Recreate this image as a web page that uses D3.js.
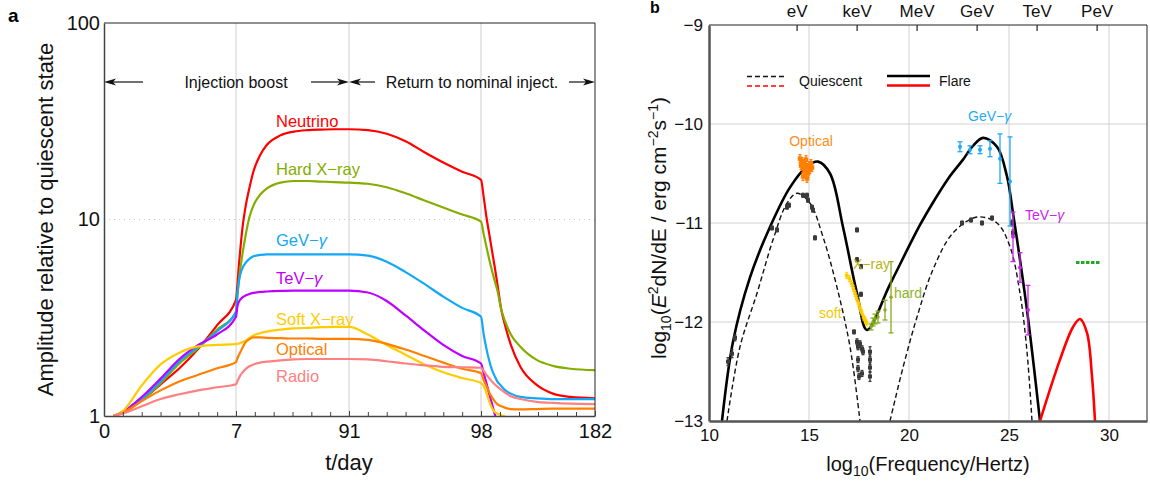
<!DOCTYPE html>
<html>
<head>
<meta charset="utf-8">
<script src="https://cdn.jsdelivr.net/npm/d3@7"></script>
<style>
	body { margin: 0; background: #fff; }
	svg { font-family: "Liberation Sans", Arial, sans-serif; }
</style>
</head>
<body>
<svg id="chart" width="1150" height="484"></svg>
<script>
// ---------- panel a : light curves ----------
const days		= [0.5, 1, 2, 3, 4, 5, 6, 7,
				   8, 9, 10, 12, 14, 17, 20, 25, 30, 40, 50, 60, 70, 80, 91,
				   92, 93, 94, 95, 96, 97, 98,
				   100, 102, 104, 106, 108, 110, 113, 116, 120, 127, 139, 151, 164, 182];
const neutrino	= [1, 1.04, 1.2, 1.45, 1.75, 2.2, 2.9, 3.9,
				   4.6, 5.7, 6.8, 9.3, 11.5, 14.5, 17.6, 21.3, 24.0, 26.8, 28.0, 28.5, 28.7, 28.8, 28.8,
				   28.5, 27.3, 25, 22, 19.5, 17.5, 15.9,
				   13.0, 10.3, 8.5, 7.0, 5.8, 4.73, 3.46, 2.85, 2.3, 1.78, 1.44, 1.30, 1.25, 1.23];
const hardX		= [1, 1.04, 1.2, 1.47, 1.85, 2.22, 2.75, 3.35,
				   4.1, 4.8, 5.5, 6.8, 8.2, 10.3, 11.8, 13.4, 14.4, 15.4, 15.7, 15.7, 15.6, 15.5, 15.4,
				   15.2, 14.6, 13.6, 12.5, 11.5, 10.6, 9.75,
				   8.4, 7.27, 6.3, 5.53, 4.9, 4.38, 3.46, 3.0, 2.6, 2.25, 1.93, 1.8, 1.74, 1.71];
const gevGamma	= [1, 1.05, 1.22, 1.5, 1.9, 2.25, 2.7, 3.4,
				   4.1, 4.75, 5.2, 5.7, 6.0, 6.3, 6.5, 6.6, 6.65, 6.65, 6.65, 6.65, 6.65, 6.65, 6.65,
				   6.55, 6.1, 5.4, 4.7, 4.05, 3.55, 3.2,
				   2.6, 2.2, 1.92, 1.72, 1.6, 1.5, 1.42, 1.35, 1.3, 1.25, 1.23, 1.22, 1.22, 1.22];
const tevGamma	= [1, 1.05, 1.25, 1.55, 1.95, 2.3, 2.6, 3.2,
				   3.6, 3.8, 3.9, 4.03, 4.1, 4.18, 4.23, 4.28, 4.3, 4.33, 4.35, 4.35, 4.35, 4.35, 4.35,
				   4.25, 3.85, 3.25, 2.72, 2.3, 2.02, 1.85,
				   1.65, 1.47, 1.3, 1.16, 1.03, 0.93, null, null, null, null, null, null, null, null];
const softX		= [1, 1.06, 1.43, 1.83, 2.1, 2.26, 2.3, 2.32,
				   2.33, 2.34, 2.35, 2.38, 2.42, 2.5, 2.57, 2.64, 2.69, 2.75, 2.79, 2.81, 2.83, 2.84, 2.84,
				   2.6, 2.3, 2.05, 1.83, 1.67, 1.56, 1.47,
				   1.42, 1.31, 1.19, 1.1, 1.05, 1.03, 1.01, 0.99, 0.97, null, null, null, null, null];
const optical	= [1, 1.04, 1.19, 1.35, 1.5, 1.62, 1.75, 1.88,
				   1.96, 2.03, 2.1, 2.24, 2.37, 2.46, 2.51, 2.51, 2.5, 2.49, 2.48, 2.48, 2.47, 2.47, 2.47,
				   2.44, 2.33, 2.18, 2.02, 1.87, 1.74, 1.65,
				   1.52, 1.42, 1.32, 1.25, 1.19, 1.15, 1.12, 1.1, 1.085, 1.08, 1.085, 1.09, 1.09, 1.09];
const radio		= [1, 1.03, 1.12, 1.22, 1.29, 1.35, 1.4, 1.45,
				   1.5, 1.55, 1.6, 1.67, 1.73, 1.79, 1.83, 1.87, 1.89, 1.92, 1.94, 1.95, 1.95, 1.95, 1.95,
				   1.94, 1.9, 1.85, 1.81, 1.78, 1.77, 1.76,
				   1.7, 1.62, 1.56, 1.5, 1.45, 1.41, 1.36, 1.31, 1.26, 1.22, 1.18, 1.165, 1.155, 1.15];

const curveNames	= ["Neutrino", "Hard X\u2212ray", "GeV\u2212", "TeV\u2212", "Soft X\u2212ray", "Optical", "Radio"];
const curveValues	= [neutrino, hardX, gevGamma, tevGamma, softX, optical, radio];
const dayTicks		= [0, 7, 91, 98, 182];
const ampTicks		= [1, 10, 100];

// ---------- panel b : SED ----------
const flareX	= [10.65, 11.2, 12.05, 13.05, 14.05, 14.9, 15.45, 16.05, 16.7, 17.4, 17.9, 19.05, 20.55, 21.3, 22.0, 22.7, 23.2, 23.7, 24.4, 24.9, 25.2, 25.9, 26.55];
const flareY	= [-13, -12.2, -11.55, -11.04, -10.64, -10.43, -10.38, -10.5, -11.04, -11.71, -12.08, -11.62, -11.02, -10.76, -10.54, -10.36, -10.22, -10.14, -10.23, -10.53, -10.9, -11.88, -13];
const quiesX	= [10.9, 11.55, 12.4, 13.2, 13.9, 14.4, 15.05, 15.7, 16.4, 17.05, 17.55, null,
				   19.05, 19.7, 20.4, 21.2, 22.2, 23.4, 24.4, 25.05, 25.55, 25.9, 26.15];
const quiesY	= [-13, -12.25, -11.71, -11.17, -10.8, -10.7, -10.8, -11.14, -11.65, -12.25, -13, null,
				   -13, -12.46, -11.95, -11.47, -11.1, -10.94, -11.0, -11.24, -11.71, -12.3, -13];
const nuX		= [26.55, 27.55, 28.2, 28.55, 28.9, 29.15, 29.3, 29.35];
const nuY		= [-13, -12.38, -12.05, -11.97, -12.11, -12.55, -13, -13.2];
const sensX		= [28.35, 29.6];
const sensY		= -11.4;

// [log10 nu, log10 flux, error]
const quiesPts	= [[10.95,-12.4,0.04],[11.15,-12.32,0.04],[11.3,-12.16,0.03],[13.15,-11.05,0.02],[13.4,-11.07,0.02],
				   [13.9,-10.84,0.02],[14.0,-10.82,0.02],[14.7,-10.72,0.02],[14.9,-10.72,0.02],[14.95,-10.77,0.02],
				   [15.15,-10.84,0.02],[15.2,-10.87,0.02],[15.3,-11.15,0.02],[17.4,-11.07,0.02],[17.4,-11.37,0.02],
				   [17.6,-11.44,0.02],[17.6,-11.72,0.02],[17.25,-12.1,0.02],[17.4,-12.2,0.03],[17.45,-12.25,0.03],
				   [17.55,-12.22,0.03],[17.65,-12.27,0.03],[17.7,-12.3,0.03],[17.45,-12.38,0.03],[17.45,-12.47,0.03],
				   [17.5,-12.55,0.03],[17.65,-12.52,0.03],[18.05,-12.3,0.05],[18.05,-12.38,0.05],[18.05,-12.46,0.05],
				   [18.05,-12.55,0.05],[22.65,-11.0,0.02],[23.1,-10.97,0.02],[23.65,-11.0,0.02],[24.15,-10.95,0.02],
				   [25.15,-11.0,0.03],[25.2,-11.1,0.03]];
const opticalPts= [[14.55,-10.35,0.04],[14.6,-10.42,0.04],[14.65,-10.38,0.04],[14.7,-10.45,0.04],[14.75,-10.4,0.04],
				   [14.8,-10.48,0.04],[14.85,-10.36,0.04],[14.9,-10.44,0.04],[14.95,-10.5,0.04],[15.0,-10.42,0.04],
				   [15.05,-10.46,0.04],[15.1,-10.4,0.04],[15.15,-10.44,0.04],[14.7,-10.53,0.04],[14.9,-10.55,0.04]];
const softPts	= [[16.88,-11.53,0.03],[17.02,-11.56,0.03],[17.13,-11.61,0.03],[17.22,-11.66,0.03],[17.3,-11.71,0.03],
				   [17.38,-11.76,0.03],[17.47,-11.81,0.03],[17.55,-11.86,0.03],[17.63,-11.9,0.03],[17.72,-11.95,0.03],
				   [17.8,-11.98,0.03],[17.88,-12.01,0.03]];
const hardPts	= [[18.1,-12.05,0.03],[18.2,-12.0,0.04],[18.3,-11.97,0.05],[18.45,-11.95,0.06],[18.8,-11.88,0.1],[19.1,-11.75,0.36]];
const gevPts	= [[22.55,-10.23,0.05],[23.05,-10.26,0.04],[23.55,-10.26,0.04],[24.05,-10.25,0.08],[24.55,-10.35,0.25],[25.05,-10.58,0.45]];
const tevPts	= [[25.2,-11.14,0.25],[25.55,-11.45,0.15],[25.95,-11.88,0.25]];

const nuTicks	= [10, 15, 20, 25, 30];
const fluxTicks	= [-13, -12, -11, -10, -9];
const energyLabels	= ["eV", "keV", "MeV", "GeV", "TeV", "PeV"];
const energyAt		= [14.38, 17.38, 20.38, 23.38, 26.38, 29.38];

// ================= drawing =================
let svg = d3.select("#chart");

let colorsA	= ["#ff0000", "#84ad00", "#12a8f5", "#bf00ff", "#ffcc00", "#ff7f00", "#ff8080"];
let labelY	= [127, 175, 246, 284, 325, 355, 382];

let xA = d3.scaleLinear().domain(dayTicks).range([104, 236, 349, 481, 595]);
let yA = d3.scaleLog().domain([1, 100]).range([416, 23]);

let pa = svg.append('g').attr('id', 'panel-a');

pa.append('clipPath').attr('id', 'clip-a')
	.append('rect').attr('x', 104).attr('y', 23).attr('width', 491).attr('height', 393);

// grid
pa.append('g').selectAll('line').data([7, 91, 98]).enter().append('line')
	.attr('x1', (d) => xA(d)).attr('x2', (d) => xA(d))
	.attr('y1', yA(100)).attr('y2', yA(1))
	.attr('stroke', '#cfcfcf').attr('stroke-width', 1);
pa.append('line')
	.attr('x1', xA(0)).attr('x2', xA(182)).attr('y1', yA(10)).attr('y2', yA(10))
	.attr('stroke', '#c8c8c8').attr('stroke-dasharray', '1,4');

// curves
let lineA = d3.line()
	.defined((d) => d[1] != null)
	.x((d) => xA(d[0]))
	.y((d) => yA(d[1]))
	.curve(d3.curveMonotoneX);

pa.append('g').attr('clip-path', 'url(#clip-a)')
	.selectAll('path').data(curveValues).enter().append('path')
	.attr('d', (vals) => lineA(days.map((t, i) => [t, vals[i]])))
	.attr('fill', 'none')
	.attr('stroke', (d, i) => colorsA[i])
	.attr('stroke-width', 2.2);

// curve labels
let lab = pa.append('g').selectAll('text').data(curveNames).enter().append('text')
	.attr('x', 276).attr('y', (d, i) => labelY[i])
	.attr('fill', (d, i) => colorsA[i])
	.attr('font-size', 16.5)
	.text((d) => d);
lab.filter((d, i) => i == 2 || i == 3).append('tspan').attr('font-style', 'italic').text('\u03b3');

// frame
pa.append('line').attr('x1', 104).attr('x2', 595).attr('y1', 23).attr('y2', 23).attr('stroke', '#222');
pa.append('line').attr('x1', 595).attr('x2', 595).attr('y1', 23).attr('y2', 416).attr('stroke', '#222');

// axes
let minorDays = d3.range(1, 7).concat(d3.range(21, 91, 14), d3.range(92, 98), d3.range(112, 182, 14));
pa.append('g').attr('transform', 'translate(0,416)')
	.call(d3.axisBottom(xA).tickValues(minorDays).tickFormat('').tickSizeInner(-4).tickSizeOuter(0))
	.call((g) => g.select('.domain').remove())
	.selectAll('line').attr('stroke', '#444');
let axA = pa.append('g').attr('transform', 'translate(0,416)')
	.call(d3.axisBottom(xA).tickValues(dayTicks).tickFormat(d3.format('d')).tickSizeInner(-5).tickSizeOuter(0).tickPadding(8));
axA.select('.domain').attr('stroke', '#444').attr('stroke-width', 1.5);
axA.selectAll('line').attr('stroke', '#444');
axA.selectAll('text').attr('font-size', 20).attr('fill', '#111').attr('font-family', null);

let ayA = pa.append('g').attr('transform', 'translate(104,0)')
	.call(d3.axisLeft(yA).tickValues(ampTicks).tickFormat(d3.format('d')).tickSize(0).tickPadding(4));
ayA.select('.domain').attr('stroke', '#444').attr('stroke-width', 1.5);
ayA.selectAll('text').attr('font-size', 20).attr('fill', '#111').attr('font-family', null);

pa.append('text').attr('x', xA(91)).attr('y', 470).attr('text-anchor', 'middle')
	.attr('font-size', 22).attr('fill', '#111').text('t/day');
pa.append('text').attr('transform', 'translate(53,' + yA(10) + ') rotate(-90)')
	.attr('text-anchor', 'middle').attr('font-size', 22).attr('fill', '#111')
	.text('Amplitude relative to quiescent state');

// phase arrows
let arrowY = 82;
function arrow(g, from, to) {
	let dir = to > from ? 1 : -1;
	g.append('line').attr('x1', from).attr('x2', to - dir * 8).attr('y1', arrowY).attr('y2', arrowY)
		.attr('stroke', '#111').attr('stroke-width', 1.2);
	g.append('path')
		.attr('d', 'M' + to + ',' + arrowY + 'L' + (to - dir * 12) + ',' + (arrowY - 3.5) + 'L' + (to - dir * 9) + ',' + arrowY + 'L' + (to - dir * 12) + ',' + (arrowY + 3.5) + 'Z')
		.attr('fill', '#111');
}
arrow(pa, 143, xA(0));
arrow(pa, 311, xA(91));
arrow(pa, 375, xA(91));
arrow(pa, 569, xA(182));
pa.append('text').attr('x', xA(7)).attr('y', arrowY + 5.5).attr('text-anchor', 'middle')
	.attr('font-size', 16).attr('fill', '#111').text('Injection boost');
pa.append('text').attr('x', (xA(91) + xA(182)) / 2).attr('y', arrowY + 5.5).attr('text-anchor', 'middle')
	.attr('font-size', 16).attr('fill', '#111').text('Return to nominal inject.');

svg.append('text').attr('x', 8).attr('y', 22).attr('font-size', 19).attr('font-weight', 'bold').text('a');

// ---------- panel b ----------
let xB = d3.scaleLinear().domain([10, 31.9]).range([709, 1147]);
let yB = d3.scaleLinear().domain([-13, -9]).range([421, 25]);

let pb = svg.append('g').attr('id', 'panel-b');
pb.append('clipPath').attr('id', 'clip-b')
	.append('rect').attr('x', 709).attr('y', 25).attr('width', 438).attr('height', 396);

pb.append('g').selectAll('line').data([15, 20, 25, 30]).enter().append('line')
	.attr('x1', (d) => xB(d)).attr('x2', (d) => xB(d)).attr('y1', yB(-9)).attr('y2', yB(-13))
	.attr('stroke', '#d2d2d2');
pb.append('g').selectAll('line').data([-10, -11, -12]).enter().append('line')
	.attr('x1', xB(10)).attr('x2', xB(31.9)).attr('y1', (d) => yB(d)).attr('y2', (d) => yB(d))
	.attr('stroke', '#d2d2d2');

let plot = pb.append('g').attr('clip-path', 'url(#clip-b)');
let lineB = d3.line()
	.defined((d) => d[0] != null)
	.x((d) => xB(d[0]))
	.y((d) => yB(d[1]))
	.curve(d3.curveCatmullRom.alpha(0.5));

plot.append('path').attr('d', lineB(quiesX.map((x, i) => [x, quiesY[i]])))
	.attr('fill', 'none').attr('stroke', '#111').attr('stroke-width', 1.4).attr('stroke-dasharray', '5,3');
plot.append('path').attr('d', lineB(flareX.map((x, i) => [x, flareY[i]])))
	.attr('fill', 'none').attr('stroke', '#000').attr('stroke-width', 2.6);
plot.append('path').attr('d', lineB(nuX.map((x, i) => [x, nuY[i]])))
	.attr('fill', 'none').attr('stroke', '#ff0000').attr('stroke-width', 2.6);
plot.append('line').attr('x1', xB(sensX[0])).attr('x2', xB(sensX[1])).attr('y1', yB(sensY)).attr('y2', yB(sensY))
	.attr('stroke', '#1faa1f').attr('stroke-width', 3).attr('stroke-dasharray', '3.5,1.5');

function points(data, color, shape, size, cap) {
	let g = plot.append('g').attr('fill', color).attr('stroke', color);
	g.selectAll('line.err').data(data).enter().append('line')
		.attr('x1', (d) => xB(d[0])).attr('x2', (d) => xB(d[0]))
		.attr('y1', (d) => yB(d[1] - d[2])).attr('y2', (d) => yB(d[1] + d[2]))
		.attr('stroke-width', 1.3);
	if (cap) {
		g.selectAll('line.cap').data(data.flatMap((d) => [[d[0], d[1] - d[2]], [d[0], d[1] + d[2]]])).enter().append('line')
			.attr('x1', (d) => xB(d[0]) - cap).attr('x2', (d) => xB(d[0]) + cap)
			.attr('y1', (d) => yB(d[1])).attr('y2', (d) => yB(d[1]))
			.attr('stroke-width', 1.3);
	}
	if (shape == 'square') {
		g.selectAll('rect').data(data).enter().append('rect')
			.attr('x', (d) => xB(d[0]) - size / 2).attr('y', (d) => yB(d[1]) - size / 2)
			.attr('width', size).attr('height', size).attr('stroke', 'none');
	} else {
		g.selectAll('circle').data(data).enter().append('circle')
			.attr('cx', (d) => xB(d[0])).attr('cy', (d) => yB(d[1])).attr('r', size / 2).attr('stroke', 'none');
	}
}
points(quiesPts, '#3a3a3a', 'square', 4, 1.5);
points(opticalPts, '#ff7f00', 'square', 4.5, 1.5);
points(softPts, '#ffcc00', 'square', 3.5, 1.2);
points(hardPts, '#86ab1e', 'circle', 3.5, 2.5);
points(gevPts, '#1eaaf5', 'circle', 4, 2.5);
points(tevPts, '#cc22ee', 'circle', 4, 2.5);

// frame
pb.append('line').attr('x1', 709).attr('x2', 1147).attr('y1', 25).attr('y2', 25).attr('stroke', '#222');
pb.append('line').attr('x1', 1147).attr('x2', 1147).attr('y1', 25).attr('y2', 421).attr('stroke', '#222');

let axB = pb.append('g').attr('transform', 'translate(0,421)')
	.call(d3.axisBottom(xB).tickValues(nuTicks).tickFormat(d3.format('d')).tickSize(0).tickPadding(8));
axB.select('.domain').attr('stroke', '#555').attr('stroke-width', 2.5);
axB.selectAll('text').attr('font-size', 17).attr('fill', '#111').attr('font-family', null);

let ayB = pb.append('g').attr('transform', 'translate(709,0)')
	.call(d3.axisLeft(yB).tickValues(fluxTicks).tickFormat(d3.format('d')).tickSize(0).tickPadding(6));
ayB.select('.domain').attr('stroke', '#555').attr('stroke-width', 2.5);
ayB.selectAll('text').attr('font-size', 17).attr('fill', '#111').attr('font-family', null);

let atB = pb.append('g').attr('transform', 'translate(0,25)')
	.call(d3.axisTop(xB).tickValues(energyAt).tickFormat((d, i) => energyLabels[i]).tickSizeInner(-6).tickSizeOuter(0).tickPadding(8));
atB.select('.domain').remove();
atB.selectAll('line').attr('stroke', '#222').attr('stroke-width', 1.2);
atB.selectAll('text').attr('font-size', 17).attr('fill', '#111').attr('font-family', null);

// axis titles
let xt = pb.append('text').attr('x', 928).attr('y', 471).attr('text-anchor', 'middle').attr('font-size', 20).attr('fill', '#111');
xt.append('tspan').text('log');
xt.append('tspan').attr('font-size', 14).attr('dy', 5).text('10');
xt.append('tspan').attr('dy', -5).text('(Frequency/Hertz)');

let yt = pb.append('text').attr('transform', 'translate(666,228) rotate(-90)').attr('text-anchor', 'middle').attr('font-size', 21).attr('fill', '#111');
yt.append('tspan').text('log');
yt.append('tspan').attr('font-size', 14).attr('dy', 5).text('10');
yt.append('tspan').attr('dy', -5).text('(');
yt.append('tspan').attr('font-style', 'italic').text('E');
yt.append('tspan').attr('font-size', 14).attr('dy', -8).text('2');
yt.append('tspan').attr('dy', 8).text('dN/dE / erg cm');
yt.append('tspan').attr('font-size', 14).attr('dy', -8).text('\u22122');
yt.append('tspan').attr('dy', 8).text('s');
yt.append('tspan').attr('font-size', 14).attr('dy', -8).text('\u22121');
yt.append('tspan').attr('dy', 8).text(')');

// legend
let leg = pb.append('g');
leg.append('line').attr('x1', 747).attr('x2', 786).attr('y1', 76.5).attr('y2', 76.5).attr('stroke', '#111').attr('stroke-width', 1.4).attr('stroke-dasharray', '5,3');
leg.append('line').attr('x1', 747).attr('x2', 786).attr('y1', 86).attr('y2', 86).attr('stroke', '#ff0000').attr('stroke-width', 1.4).attr('stroke-dasharray', '5,3');
leg.append('text').attr('x', 799).attr('y', 86).attr('font-size', 14).attr('fill', '#111').text('Quiescent');
leg.append('line').attr('x1', 887).attr('x2', 930).attr('y1', 76).attr('y2', 76).attr('stroke', '#000').attr('stroke-width', 2.6);
leg.append('line').attr('x1', 887).attr('x2', 930).attr('y1', 85.5).attr('y2', 85.5).attr('stroke', '#ff0000').attr('stroke-width', 2.6);
leg.append('text').attr('x', 939).attr('y', 86).attr('font-size', 14).attr('fill', '#111').text('Flare');

// data labels
pb.append('text').attr('x', 811).attr('y', 146).attr('text-anchor', 'middle').attr('font-size', 14).attr('fill', '#ff8c1a').text('Optical');
let gl = pb.append('text').attr('x', 968).attr('y', 121).attr('font-size', 14).attr('fill', '#1eaaf5').text('GeV\u2212');
gl.append('tspan').attr('font-style', 'italic').text('\u03b3');
let tl = pb.append('text').attr('x', 1025).attr('y', 220).attr('font-size', 14).attr('fill', '#cc22ee').text('TeV\u2212');
tl.append('tspan').attr('font-style', 'italic').text('\u03b3');
pb.append('text').attr('x', 853).attr('y', 269).attr('font-size', 14).attr('fill', '#b8b514').text('X\u2212ray');
pb.append('text').attr('x', 819).attr('y', 318).attr('font-size', 14).attr('fill', '#f5c800').text('soft');
pb.append('text').attr('x', 894).attr('y', 298).attr('font-size', 14).attr('fill', '#8db32a').text('hard');

svg.append('text').attr('x', 650).attr('y', 13).attr('font-size', 16).attr('font-weight', 'bold').text('b');
</script>
</body>
</html>
